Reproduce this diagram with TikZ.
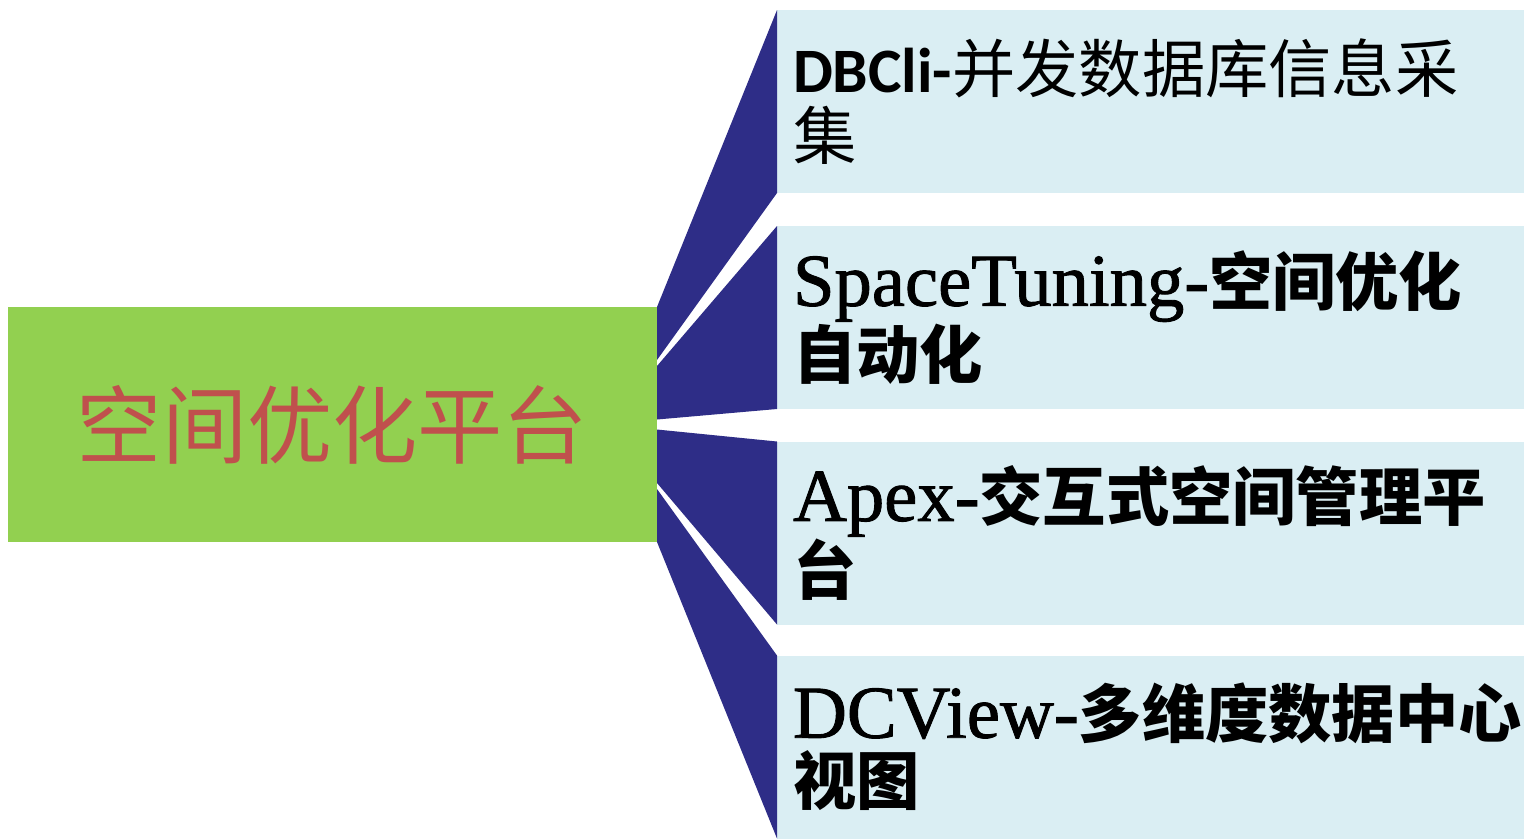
\documentclass[tikz,border=0pt]{standalone}
\usepackage{fontspec}
\usepackage{xcolor}
\usepackage{tikz}
\setmainfont{Liberation Serif}
\newfontfamily\cjkfont{Noto Sans CJK SC}
\newfontfamily\sansbold{Carlito}
\newfontfamily\serifwide{Liberation Serif}[Scale=1.18, FakeBold=1.2]
\newcommand{\zh}[1]{{\cjkfont\bfseries #1}}
\newcommand{\zhlight}[1]{{\cjkfont #1}}

\definecolor{leafgreen}{HTML}{92D050}
\definecolor{titlered}{HTML}{C0504D}
\definecolor{linkblue}{HTML}{2E2D87}
\definecolor{paleblue}{HTML}{DAEEF3}

\tikzset{
    platformbox/.style={fill=leafgreen, minimum width=12.98cm, minimum height=4.7cm,
        inner sep=0pt, outer sep=0pt, text=titlered,
        font=\cjkfont\fontsize{48.5}{52}\selectfont},
    toolbox/.style={fill=paleblue, text width=14.3cm, inner xsep=0.32cm, inner ysep=0pt,
        minimum height=3.66cm, outer sep=0pt, align=left,
        font=\fontsize{36}{38.2}\selectfont},
    link/.style={fill=linkblue}
}

\begin{document}
\begin{tikzpicture}
        \useasboundingbox (0,0) rectangle (30.48,-16.76);

        \node[platformbox] (platform) at (6.65,-8.49) {空间优化平台};

        \node[toolbox] (dbcli)  at (23.01,-2.03)  {\mbox{{\sansbold\bfseries DBCli-}\zhlight{并发数据库信息采}}\\\zhlight{集}};
        \node[toolbox] (tuning) at (23.01,-6.35)  {\mbox{{\serifwide SpaceTuning-}\zh{空间优化}}\\\zh{自动化}};
        \node[toolbox] (apex)   at (23.01,-10.66) {\mbox{{\serifwide Apex-}\zh{交互式空间管理平}}\\\zh{台}};
        \node[toolbox] (dcview) at (23.01,-14.94) {\mbox{{\serifwide DCView-}\zh{多维度数据中心}}\\\zh{视图}};

        % wedges from the platform to each tool
        \fill[link] (platform.north east) -- (dbcli.north west) -- (dbcli.south west)
            -- ([yshift=-1.06cm]platform.north east) -- cycle;
        \fill[link] ([yshift=1.17cm]platform.east) -- (tuning.north west) -- (tuning.south west)
            -- ([yshift=0.1cm]platform.east) -- cycle;
        \fill[link] ([yshift=-0.1cm]platform.east) -- (apex.north west) -- (apex.south west)
            -- ([yshift=-1.17cm]platform.east) -- cycle;
        \fill[link] ([yshift=1.06cm]platform.south east) -- (dcview.north west) -- (dcview.south west)
            -- (platform.south east) -- cycle;
    \end{tikzpicture}
\end{document}
